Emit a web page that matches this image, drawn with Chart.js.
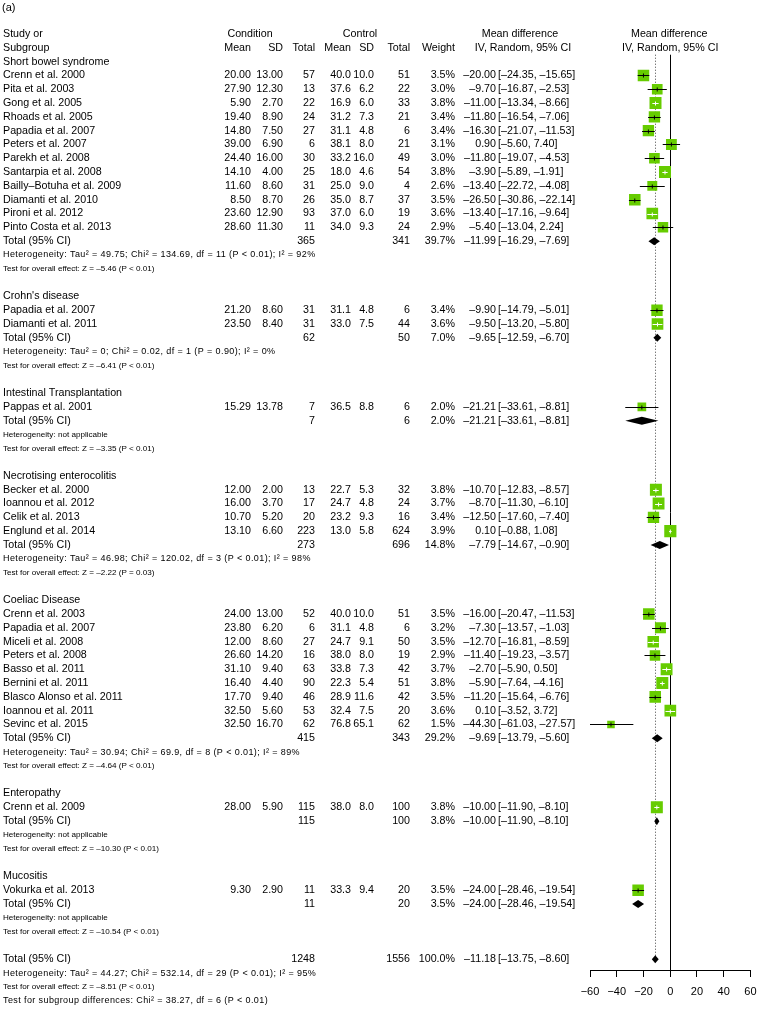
<!DOCTYPE html>
<html lang="en">
<head>
<meta charset="UTF-8">
<title>Forest plot</title>
<style>
  body { margin: 0; background: #fff; }
  canvas { display: block; }
</style>
</head>
<body>
<canvas id="forest" width="759" height="1010"></canvas>
<script src="https://cdn.jsdelivr.net/npm/chart.js"></script>
<script>
// ---- studies ----
const studyNames = [
  'Crenn et al. 2000', 'Pita et al. 2003', 'Gong et al. 2005', 'Rhoads et al. 2005', 'Papadia et al. 2007',
  'Peters et al. 2007', 'Parekh et al. 2008', 'Santarpia et al. 2008', 'Bailly\u2013Botuha et al. 2009',
  'Diamanti et al. 2010', 'Pironi et al. 2012', 'Pinto Costa et al. 2013',
  'Papadia et al. 2007', 'Diamanti et al. 2011',
  'Pappas et al. 2001',
  'Becker et al. 2000', 'Ioannou et al. 2012', 'Celik et al. 2013', 'Englund et al. 2014',
  'Crenn et al. 2003', 'Papadia et al. 2007', 'Miceli et al. 2008', 'Peters et al. 2008', 'Basso et al. 2011',
  'Bernini et al. 2011', 'Blasco Alonso et al. 2011', 'Ioannou et al. 2011', 'Sevinc et al. 2015',
  'Crenn et al. 2009',
  'Vokurka et al. 2013'
];
const studyGroup = [0,0,0,0,0,0,0,0,0,0,0,0, 1,1, 2, 3,3,3,3, 4,4,4,4,4,4,4,4,4, 5, 6];
const condMean = [20.00, 27.90, 5.90, 19.40, 14.80, 39.00, 24.40, 14.10, 11.60, 8.50, 23.60, 28.60,
  21.20, 23.50, 15.29, 12.00, 16.00, 10.70, 13.10,
  24.00, 23.80, 12.00, 26.60, 31.10, 16.40, 17.70, 32.50, 32.50, 28.00, 9.30];
const condSD = [13.00, 12.30, 2.70, 8.90, 7.50, 6.90, 16.00, 4.00, 8.60, 8.70, 12.90, 11.30,
  8.60, 8.40, 13.78, 2.00, 3.70, 5.20, 6.60,
  13.00, 6.20, 8.60, 14.20, 9.40, 4.40, 9.40, 5.60, 16.70, 5.90, 2.90];
const condN = [57, 13, 22, 24, 27, 6, 30, 25, 31, 26, 93, 11,
  31, 31, 7, 13, 17, 20, 223,
  52, 6, 27, 16, 63, 90, 46, 53, 62, 115, 11];
const ctrlMean = [40.0, 37.6, 16.9, 31.2, 31.1, 38.1, 33.2, 18.0, 25.0, 35.0, 37.0, 34.0,
  31.1, 33.0, 36.5, 22.7, 24.7, 23.2, 13.0,
  40.0, 31.1, 24.7, 38.0, 33.8, 22.3, 28.9, 32.4, 76.8, 38.0, 33.3];
const ctrlSD = [10.0, 6.2, 6.0, 7.3, 4.8, 8.0, 16.0, 4.6, 9.0, 8.7, 6.0, 9.3,
  4.8, 7.5, 8.8, 5.3, 4.8, 9.3, 5.8,
  10.0, 4.8, 9.1, 8.0, 7.3, 5.4, 11.6, 7.5, 65.1, 8.0, 9.4];
const ctrlN = [51, 22, 33, 21, 6, 21, 49, 54, 4, 37, 19, 24,
  6, 44, 6, 32, 24, 16, 624,
  51, 6, 50, 19, 42, 51, 42, 20, 62, 100, 20];
const weights = [3.5, 3.0, 3.8, 3.4, 3.4, 3.1, 3.0, 3.8, 2.6, 3.5, 3.6, 2.9,
  3.4, 3.6, 2.0, 3.8, 3.7, 3.4, 3.9,
  3.5, 3.2, 3.5, 2.9, 3.7, 3.8, 3.5, 3.6, 1.5, 3.8, 3.5];
const meanDiff = [-20.00, -9.70, -11.00, -11.80, -16.30, 0.90, -11.80, -3.90, -13.40, -26.50, -13.40, -5.40,
  -9.90, -9.50, -21.21, -10.70, -8.70, -12.50, 0.10,
  -16.00, -7.30, -12.70, -11.40, -2.70, -5.90, -11.20, 0.10, -44.30, -10.00, -24.00];
const ciLower = [-24.35, -16.87, -13.34, -16.54, -21.07, -5.60, -19.07, -5.89, -22.72, -30.86, -17.16, -13.04,
  -14.79, -13.20, -33.61, -12.83, -11.30, -17.60, -0.88,
  -20.47, -13.57, -16.81, -19.23, -5.90, -7.64, -15.64, -3.52, -61.03, -11.90, -28.46];
const ciUpper = [-15.65, -2.53, -8.66, -7.06, -11.53, 7.40, -4.53, -1.91, -4.08, -22.14, -9.64, 2.24,
  -5.01, -5.80, -8.81, -8.57, -6.10, -7.40, 1.08,
  -11.53, -1.03, -8.59, -3.57, 0.50, -4.16, -6.76, 3.72, -27.57, -8.10, -19.54];

// ---- subgroups ----
const groupNames = ['Short bowel syndrome', "Crohn's disease", 'Intestinal Transplantation',
  'Necrotising enterocolitis', 'Coeliac Disease', 'Enteropathy', 'Mucositis'];
const groupCondN = [365, 62, 7, 273, 415, 115, 11];
const groupCtrlN = [341, 50, 6, 696, 343, 100, 20];
const groupWeight = [39.7, 7.0, 2.0, 14.8, 29.2, 3.8, 3.5];
const groupMD = [-11.99, -9.65, -21.21, -7.79, -9.69, -10.00, -24.00];
const groupLower = [-16.29, -12.59, -33.61, -14.67, -13.79, -11.90, -28.46];
const groupUpper = [-7.69, -6.70, -8.81, -0.90, -5.60, -8.10, -19.54];
const groupTau2 = [49.75, 0, null, 46.98, 30.94, null, null];
const groupChi2 = [134.69, 0.02, null, 120.02, 69.9, null, null];
const groupDf = [11, 1, null, 3, 8, null, null];
const groupHetP = ['< 0.01', '= 0.90', null, '< 0.01', '< 0.01', null, null];
const groupI2 = [92, 0, null, 98, 89, null, null];
const groupZ = [-5.46, -6.41, -3.35, -2.22, -4.64, -10.30, -10.54];
const groupZP = ['< 0.01', '< 0.01', '< 0.01', '= 0.03', '< 0.01', '< 0.01', '< 0.01'];

// ---- overall ----
const overallCondN = 1248, overallCtrlN = 1556, overallWeight = 100.0;
const overallMD = -11.18, overallLower = -13.75, overallUpper = -8.60;
const overallTau2 = 44.27, overallChi2 = 532.14, overallDf = 29, overallI2 = 95, overallZ = -8.51;
const subgroupChi2 = 38.27, subgroupDf = 6;

const xTicks = [-60, -40, -20, 0, 20, 40, 60];

// row layout
const studyRow = [], groupRow = [], totalRow = [];
let r = 2;
groupNames.forEach((g, gi) => {
  groupRow[gi] = r++;
  studyNames.forEach((s, i) => { if (studyGroup[i] === gi) studyRow[i] = r++; });
  totalRow[gi] = r;
  r += 4;
});
const overallRow = r;

const FONT = '"Liberation Sans", Arial, sans-serif';
const GREEN = '#66cc00';
const fmt = (v, d) => v.toFixed(d).replace('-', '\u2013');
const ci = (lo, hi) => '[' + fmt(lo, 2) + ', ' + fmt(hi, 2) + ']';
const squareSide = w => 12 * Math.sqrt(w / 3.8);

const col = { name: 3, cMean: 251, cSD: 283, cN: 315, kMean: 351, kSD: 374, kN: 410, w: 455, md: 496, ci: 498 };

function hetText(gi) {
  if (groupTau2[gi] === null) return 'Heterogeneity: not applicable';
  return 'Heterogeneity: Tau\u00b2 = ' + groupTau2[gi] + '; Chi\u00b2 = ' + groupChi2[gi] + ', df = ' + groupDf[gi] +
    ' (P ' + groupHetP[gi] + '); I\u00b2 = ' + groupI2[gi] + '%';
}

const forestPlugin = {
  id: 'forest',
  beforeDatasetsDraw(chart) {
    const { ctx, scales: { x, y } } = chart;
    ctx.save();
    // line of no effect
    ctx.strokeStyle = '#000';
    ctx.lineWidth = 1;
    ctx.beginPath();
    ctx.moveTo(Math.round(x.getPixelForValue(0)) + 0.5, y.getPixelForValue(1.5));
    ctx.lineTo(Math.round(x.getPixelForValue(0)) + 0.5, chart.chartArea.bottom);
    ctx.stroke();
    // overall effect, dotted
    ctx.strokeStyle = '#444';
    ctx.setLineDash([1, 2]);
    ctx.beginPath();
    ctx.moveTo(Math.round(x.getPixelForValue(overallMD)) + 0.5, y.getPixelForValue(1.5));
    ctx.lineTo(Math.round(x.getPixelForValue(overallMD)) + 0.5, y.getPixelForValue(overallRow + 0.2));
    ctx.stroke();
    ctx.restore();
  },
  afterDatasetsDraw(chart) {
    const { ctx, scales: { x, y } } = chart;
    ctx.save();
    ctx.lineWidth = 1;
    meanDiff.forEach((m, i) => {
      const yy = Math.round(y.getPixelForValue(studyRow[i])) + 0.5;
      const x1 = x.getPixelForValue(Math.max(ciLower[i], -60));
      const x2 = x.getPixelForValue(Math.min(ciUpper[i], 60));
      const xm = x.getPixelForValue(m);
      ctx.strokeStyle = (x2 - x1) < squareSide(weights[i]) ? '#fff' : '#000';
      ctx.beginPath();
      ctx.moveTo(x1, yy); ctx.lineTo(x2, yy);
      ctx.moveTo(xm, yy - 2); ctx.lineTo(xm, yy + 2);
      ctx.stroke();
    });
    // diamonds
    ctx.fillStyle = '#000';
    const diamond = (md, lo, hi, row) => {
      const yy = y.getPixelForValue(row);
      ctx.beginPath();
      ctx.moveTo(x.getPixelForValue(lo), yy);
      ctx.lineTo(x.getPixelForValue(md), yy - 4);
      ctx.lineTo(x.getPixelForValue(hi), yy);
      ctx.lineTo(x.getPixelForValue(md), yy + 4);
      ctx.closePath();
      ctx.fill();
    };
    groupMD.forEach((m, gi) => diamond(m, groupLower[gi], groupUpper[gi], totalRow[gi]));
    diamond(overallMD, overallLower, overallUpper, overallRow);
    ctx.restore();
  },
  afterDraw(chart) {
    const { ctx, scales: { x, y } } = chart;
    ctx.save();
    ctx.fillStyle = '#000';
    ctx.textBaseline = 'middle';
    const t = (s, px, row, align, size, spacing) => {
      ctx.font = (size || 10.7) + 'px ' + FONT;
      ctx.textAlign = align || 'left';
      ctx.letterSpacing = (spacing || 0) + 'px';
      ctx.fillText(s, px, y.getPixelForValue(row));
    };
    const SMALL = 8.1, STAT = 9;
    t('(a)', 2, -1.85, 'left', 11);
    // headers
    t('Study or', col.name, 0);
    t('Subgroup', col.name, 1);
    t('Condition', 250, 0, 'center');
    t('Control', 360, 0, 'center');
    t('Mean difference', 520, 0, 'center');
    t('Mean difference', x.getPixelForValue(0) - 1, 0, 'center');
    t('IV, Random, 95% CI', x.getPixelForValue(0), 1, 'center');
    t('Mean', col.cMean, 1, 'right');
    t('SD', col.cSD, 1, 'right');
    t('Total', col.cN, 1, 'right');
    t('Mean', col.kMean, 1, 'right');
    t('SD', col.kSD, 1, 'right');
    t('Total', col.kN, 1, 'right');
    t('Weight', col.w, 1, 'right');
    t('IV, Random, 95% CI', 523, 1, 'center');

    studyNames.forEach((s, i) => {
      const row = studyRow[i];
      t(s, col.name, row);
      t(fmt(condMean[i], 2), col.cMean, row, 'right');
      t(fmt(condSD[i], 2), col.cSD, row, 'right');
      t(String(condN[i]), col.cN, row, 'right');
      t(fmt(ctrlMean[i], 1), col.kMean, row, 'right');
      t(fmt(ctrlSD[i], 1), col.kSD, row, 'right');
      t(String(ctrlN[i]), col.kN, row, 'right');
      t(fmt(weights[i], 1) + '%', col.w, row, 'right');
      t(fmt(meanDiff[i], 2), col.md, row, 'right');
      t(ci(ciLower[i], ciUpper[i]), col.ci, row);
    });

    groupNames.forEach((g, gi) => {
      const tr = totalRow[gi];
      t(g, col.name, groupRow[gi]);
      t('Total (95% CI)', col.name, tr);
      t(String(groupCondN[gi]), col.cN, tr, 'right');
      t(String(groupCtrlN[gi]), col.kN, tr, 'right');
      t(fmt(groupWeight[gi], 1) + '%', col.w, tr, 'right');
      t(fmt(groupMD[gi], 2), col.md, tr, 'right');
      t(ci(groupLower[gi], groupUpper[gi]), col.ci, tr);
      if (groupTau2[gi] === null) t(hetText(gi), col.name, tr + 1, 'left', SMALL);
      else t(hetText(gi), col.name, tr + 1, 'left', STAT, 0.4);
      t('Test for overall effect: Z = ' + fmt(groupZ[gi], 2) + ' (P ' + groupZP[gi] + ')', col.name, tr + 2, 'left', SMALL);
    });

    const or = overallRow;
    t('Total (95% CI)', col.name, or);
    t(String(overallCondN), col.cN, or, 'right');
    t(String(overallCtrlN), col.kN, or, 'right');
    t(fmt(overallWeight, 1) + '%', col.w, or, 'right');
    t(fmt(overallMD, 2), col.md, or, 'right');
    t(ci(overallLower, overallUpper), col.ci, or);
    t('Heterogeneity: Tau\u00b2 = ' + overallTau2 + '; Chi\u00b2 = ' + overallChi2 + ', df = ' + overallDf +
      ' (P < 0.01); I\u00b2 = ' + overallI2 + '%', col.name, or + 1, 'left', STAT, 0.4);
    t('Test for overall effect: Z = ' + fmt(overallZ, 2) + ' (P < 0.01)', col.name, or + 2, 'left', SMALL);
    t('Test for subgroup differences: Chi\u00b2 = ' + subgroupChi2 + ', df = ' + subgroupDf + ' (P < 0.01)',
      col.name, or + 3, 'left', STAT, 0.4);
    ctx.restore();
  }
};

new Chart(document.getElementById('forest'), {
  type: 'scatter',
  data: {
    datasets: [{
      data: meanDiff.map((m, i) => ({ x: m, y: studyRow[i] })),
      pointStyle: 'rect',
      pointRadius: weights.map(w => squareSide(w) / Math.SQRT2),
      backgroundColor: GREEN,
      borderWidth: 0,
      pointBorderWidth: 0
    }]
  },
  options: {
    responsive: false,
    animation: false,
    events: [],
    layout: { padding: { left: 590, right: 0, top: 20, bottom: 0 } },
    plugins: { legend: { display: false }, tooltip: { enabled: false } },
    scales: {
      x: {
        type: 'linear',
        min: xTicks[0],
        max: xTicks[xTicks.length - 1],
        afterFit(scale) {
          scale.height = 40;
          scale.paddingLeft = 0;
          scale.paddingRight = 0;
        },
        afterBuildTicks(scale) { scale.ticks = xTicks.map(v => ({ value: v })); },
        grid: { drawOnChartArea: false, drawTicks: true, tickLength: 7, color: '#000', tickColor: '#000' },
        border: { display: true, color: '#000', width: 1 },
        ticks: {
          color: '#000',
          padding: 8,
          maxRotation: 0,
          autoSkip: false,
          font: { family: FONT, size: 11 },
          callback: v => String(v).replace('-', '\u2212')
        }
      },
      y: {
        type: 'linear',
        display: false,
        reverse: true,
        min: -1.0138,
        max: 67.777
      }
    }
  },
  plugins: [forestPlugin]
});
</script>
</body>
</html>
